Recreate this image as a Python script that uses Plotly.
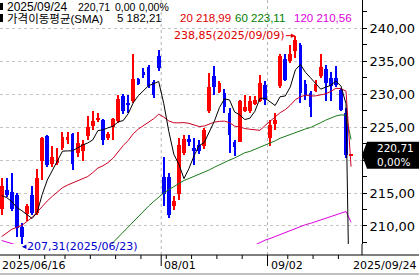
import plotly.graph_objects as go
from datetime import datetime

# ---------------- data ----------------
dates = ["2025/06/16","2025/06/17","2025/06/18","2025/06/20","2025/06/23","2025/06/24","2025/06/25","2025/06/26","2025/06/27","2025/06/30",
         "2025/07/01","2025/07/02","2025/07/03","2025/07/07","2025/07/08","2025/07/09","2025/07/10","2025/07/11","2025/07/14","2025/07/15",
         "2025/07/16","2025/07/17","2025/07/18","2025/07/21","2025/07/22","2025/07/23","2025/07/24","2025/07/25","2025/07/28","2025/07/29",
         "2025/07/30","2025/07/31","2025/08/01","2025/08/04","2025/08/05","2025/08/06","2025/08/07","2025/08/08","2025/08/11","2025/08/12",
         "2025/08/13","2025/08/14","2025/08/15","2025/08/18","2025/08/19","2025/08/20","2025/08/21","2025/08/22","2025/08/25","2025/08/26",
         "2025/08/27","2025/08/28","2025/08/29","2025/09/02","2025/09/03","2025/09/04","2025/09/05","2025/09/08","2025/09/09","2025/09/10",
         "2025/09/11","2025/09/12","2025/09/15","2025/09/16","2025/09/17","2025/09/18","2025/09/19","2025/09/22","2025/09/23","2025/09/24"]

opens = [212.5,215.4,215.1,214.7,209.9,211.8,214.7,212.0,219.9,223.6,
         219.4,219.5,221.8,223.0,223.9,221.1,221.4,223.6,225.1,226.0,
         226.0,223.3,225.0,225.9,229.7,228.6,229.0,232.3,233.3,234.1,
         231.8,235.7,217.4,217.5,213.0,214.8,221.1,223.2,221.8,222.3,
         222.1,227.4,232.7,230.3,230.1,227.1,222.8,222.8,227.5,227.4,
         228.5,229.0,231.4,223.3,225.4,231.2,235.3,235.0,236.5,237.5,
         231.5,230.2,230.5,232.7,233.8,232.5,232.5,230.6,227.1,220.71]
highs = [217.2,217.2,218.1,215.0,210.4,213.3,216.0,218.7,223.5,223.8,
         222.1,221.8,224.3,224.3,224.1,224.3,223.1,226.7,227.4,227.2,
         226.2,224.3,226.4,229.9,230.0,229.9,236.1,232.5,234.0,234.4,
         232.1,236.6,220.5,218.0,214.5,223.3,223.8,223.8,223.3,223.0,
         224.8,233.2,234.2,231.9,230.7,227.9,223.1,229.1,229.9,229.7,
         229.7,232.9,231.9,226.1,227.1,236.0,236.1,237.5,238.85,237.8,
         232.1,230.4,232.2,236.0,234.4,233.4,234.2,230.9,227.9,220.71]
lows = [211.7,214.4,212.3,208.4,207.31,210.7,211.6,211.7,217.0,219.0,
        219.0,219.2,221.5,222.4,218.5,220.5,219.8,223.1,224.6,225.7,
        222.3,223.1,223.1,225.6,226.9,227.1,228.6,231.3,232.4,230.9,
        229.4,233.5,213.1,211.2,212.4,214.0,220.8,222.1,219.3,220.9,
        221.6,227.1,229.9,230.1,227.1,221.1,220.6,222.7,227.3,227.2,
        228.4,228.8,228.4,222.1,224.6,230.9,232.0,234.7,235.5,228.7,
        229.1,226.5,230.3,232.4,228.9,228.9,231.0,227.4,220.3,220.71]
closes = [216.1,214.7,212.6,209.7,208.4,213.0,212.0,217.2,223.3,219.3,
          220.4,220.2,223.5,223.5,219.4,222.6,222.4,225.0,225.9,226.4,
          223.1,224.0,226.2,229.2,227.4,228.4,232.3,231.5,232.9,231.2,
          229.9,234.0,214.9,211.7,213.8,222.3,223.2,222.7,221.3,221.4,
          224.6,231.0,231.1,231.6,228.0,223.8,221.9,228.9,228.1,228.9,
          229.1,231.7,229.1,225.3,226.1,235.8,232.2,236.0,238.2,230.2,
          229.8,228.1,231.5,234.1,231.7,231.2,231.4,227.6,220.71,220.71]

ma5 = [214.6,214.3,213.7,212.8,212.30,211.68,211.14,212.06,214.78,216.96,
       218.44,220.08,221.34,221.38,221.40,221.84,222.28,222.58,223.06,224.46,
       224.56,224.88,225.12,225.78,225.98,227.04,228.70,229.76,230.50,231.26,
       231.56,231.90,228.58,224.34,220.86,219.34,217.18,218.74,220.66,222.18,
       222.64,224.20,225.88,227.94,229.26,229.10,227.28,226.84,226.14,226.32,
       227.38,229.34,229.38,228.82,228.26,229.60,229.70,231.08,233.66,234.48,
       233.28,232.46,231.56,230.74,231.04,231.32,231.98,231.20,228.52,182.21]
ma20 = [208.4,209.0,209.5,209.8,210.1,210.7,211.3,212.1,213.0,213.8,
        214.5,215.2,215.8,216.2,216.5,216.8,217.1,217.5,218.1,218.78,
        219.13,219.60,220.28,221.25,222.20,222.97,223.99,224.70,225.18,225.78,
        226.25,226.94,226.51,225.92,225.64,225.63,225.67,225.55,225.32,225.07,
        225.15,225.50,225.74,225.86,225.89,225.66,225.14,225.01,224.77,224.66,
        224.62,224.50,225.21,225.89,226.51,227.18,227.63,228.30,229.14,229.58,
        229.84,229.70,229.72,229.84,230.03,230.40,230.87,230.81,230.44,218.99]
ma60 = [None]*20 + [205.9,206.6,207.5,208.3,209.1,209.9,210.7,211.5,212.3,213.0,
        213.7,214.4,215.0,215.5,216.0,216.5,216.9,217.2,217.5,217.8,
        218.2,218.5,218.9,219.3,219.7,220.0,220.3,220.7,221.1,221.3,
        221.6,221.9,222.2,222.6,222.9,223.3,223.6,223.9,224.2,224.48,
        224.71,224.93,225.24,225.65,226.04,226.34,226.67,226.84,226.80,223.11]
ma120 = [207.8,207.6,207.35,207.1] + [None]*46 + [207.1,207.5,207.85,208.1,208.4,208.8,209.1,209.4,209.7,209.95,
         210.2,210.4,210.65,210.9,211.15,211.4,211.65,211.9,212.2,210.56]

last_change = 0.00
last_pct = 0.00
ytick_vals = [210, 215, 220, 225, 230, 235, 240]
label_dates = ["2025/08/01", "2025/09/02"]

# ---------------- geometry ----------------
W, H = 419, 278
PLOT_W, PLOT_H = 362, 244
def px_x(p):
    return p / PLOT_W
def px_y(p):
    return (PLOT_H - p) / PLOT_H
def fmt(v):
    return f"{v:.2f}".replace(".", ",")

FONT = "DejaVu Sans, Noto Sans CJK KR, sans-serif"
HFONT = "Liberation Sans, Noto Sans CJK KR, sans-serif"
RED, BLUE = "#ff0000", "#0000ff"

idx = list(range(len(dates)))
up = [c >= o for o, c in zip(opens, closes)]
cols = [RED if u else BLUE for u in up]
body_base = [min(o, c) for o, c in zip(opens, closes)]
body_h = [max(abs(c - o), 0.15) for o, c in zip(opens, closes)]
wick_h = [h - l for h, l in zip(highs, lows)]

fig = go.Figure()
fig.add_trace(go.Bar(x=idx, y=wick_h, base=lows, width=0.2, marker=dict(color=cols, line=dict(width=0)), hoverinfo="skip"))
fig.add_trace(go.Bar(x=idx, y=body_h, base=body_base, width=0.74, marker=dict(color=cols, line=dict(width=0)), hoverinfo="skip"))

for vals, col in [(ma120, "#dd00dd"), (ma60, "#1a7a1a"), (ma20, "#cc0022"), (ma5, "#000000")]:
    fig.add_trace(go.Scatter(x=idx, y=vals, mode="lines", line=dict(color=col, width=1), connectgaps=False, hoverinfo="skip"))

shapes = []
ann = []
# month gridlines and labels
for d in label_dates:
    i = dates.index(d)
    shapes.append(dict(type="line", xref="x", yref="paper", x0=i - 0.5, x1=i - 0.5, y0=px_y(255), y1=1,
                       line=dict(color="#b4b4b4", width=1, dash="3px,3px"), layer="below"))
    shapes.append(dict(type="line", xref="x", yref="paper", x0=i - 0.5, x1=i - 0.5, y0=px_y(255), y1=px_y(266),
                       line=dict(color="#000000", width=1)))
    ann.append(dict(x=i - 0.5, y=px_y(265), xref="x", yref="paper", text=d[5:], showarrow=False,
                    xanchor="left", yanchor="middle", xshift=1, font=dict(family=FONT, size=11, color="black")))

# weekly tick marks on the date axis
prev_week = None
for i, d in enumerate(dates):
    wk = datetime.strptime(d, "%Y/%m/%d").isocalendar()[1]
    if prev_week is not None and wk != prev_week and d not in label_dates:
        shapes.append(dict(type="line", xref="x", yref="paper", x0=i - 0.5, x1=i - 0.5, y0=px_y(255), y1=px_y(259),
                           line=dict(color="#000000", width=1)))
    prev_week = wk

# frame lines
shapes.append(dict(type="line", xref="paper", yref="paper", x0=0, x1=px_x(W), y0=px_y(255), y1=px_y(255), line=dict(color="#000000", width=1)))
shapes.append(dict(type="line", xref="paper", yref="paper", x0=1, x1=1, y0=px_y(255), y1=0, line=dict(color="#000000", width=1)))
shapes.append(dict(type="line", xref="paper", yref="paper", x0=0, x1=px_x(W), y0=px_y(274), y1=px_y(274), line=dict(color="#808080", width=1)))
# header markers
for (y0, y1) in [(3, 10), (14, 22)]:
    shapes.append(dict(type="rect", xref="paper", yref="paper", x0=0, x1=px_x(3), y0=px_y(y1), y1=px_y(y0), fillcolor="black", line=dict(width=0)))

# current price box (it hides the nearby axis label, as in the original)
last = closes[-1]
hh = 13.5 / 6.6
path = (f"M 1 {last} L {px_x(367)} {last + hh} L {px_x(W)} {last + hh} "
        f"L {px_x(W)} {last - hh} L {px_x(367)} {last - hh} Z")
shapes.append(dict(type="path", xref="paper", yref="y", path=path, fillcolor="black", line=dict(width=0)))
ann.append(dict(x=px_x(375), y=last, xref="paper", yref="y", text=fmt(last) + "<br>" + fmt(last_pct) + "%",
                showarrow=False, xanchor="left", yanchor="middle", align="left",
                font=dict(family=FONT, size=10.5, color="white")))
ytick_text = [fmt(v) if abs(v - last) > 2.5 else "" for v in ytick_vals]

# header text
hdr = [(5, dates[-1], 12), (76, fmt(last), 10.5), (113, fmt(last_change), 10.5), (137, fmt(last_pct) + "%", 10.5)]
for x, t, s in hdr:
    ann.append(dict(x=px_x(x), y=px_y(6.5), xref="paper", yref="paper", text=t, showarrow=False, xanchor="left",
                    yanchor="middle", font=dict(family=HFONT, size=s, color="black")))
leg = [(5, "가격이동평균(SMA)", "black"), (115, "5 " + fmt(ma5[-1]), "black"),
       (178, "20 " + fmt(ma20[-1]), "#dd0000"),
       (233, "60 " + fmt(ma60[-1]), "#008000"),
       (292, "120 " + fmt(ma120[-1]), "#dd00dd")]
for x, t, c in leg:
    ann.append(dict(x=px_x(x), y=px_y(18.5), xref="paper", yref="paper", text=t, showarrow=False, xanchor="left",
                    yanchor="middle", font=dict(family=HFONT, size=11.5, color=c)))

# x-axis end labels
ann.append(dict(x=0, y=px_y(265), xref="paper", yref="paper", text=dates[0], showarrow=False, xanchor="left",
                yanchor="middle", font=dict(family=FONT, size=11, color="black")))
ann.append(dict(x=px_x(418), y=px_y(265), xref="paper", yref="paper", text=dates[-1], showarrow=False, xanchor="right",
                yanchor="middle", font=dict(family=FONT, size=11, color="black")))

# high / low annotations
ih = highs.index(max(highs))
il = lows.index(min(lows))
ann.append(dict(x=ih, y=highs[ih], xref="x", yref="y", text=f"{fmt(highs[ih])}({dates[ih]})", showarrow=True,
                ax=-66, ay=0, arrowhead=2, arrowsize=0.9, arrowwidth=1, arrowcolor="#dd0000", standoff=0,
                font=dict(family=FONT, size=11, color="#dd0000")))
ann.append(dict(x=il, y=lows[il], xref="x", yref="y", text=f"{fmt(lows[il])}({dates[il]})", showarrow=True,
                ax=60, ay=0, yshift=-3, arrowhead=2, arrowsize=0.9, arrowwidth=1, arrowcolor="#0000cc", standoff=0,
                font=dict(family=FONT, size=11, color="#0000cc")))

fig.update_layout(
    width=W, height=H, margin=dict(l=0, r=W - PLOT_W, t=0, b=H - PLOT_H),
    paper_bgcolor="white", plot_bgcolor="white", showlegend=False,
    barmode="overlay", bargap=0,
    shapes=shapes, annotations=ann,
    xaxis=dict(range=[-0.336, 71.16], showgrid=False, zeroline=False, showticklabels=False, ticks="", showline=False, fixedrange=True),
    yaxis=dict(side="right", range=[207.27, 244.25], tickvals=ytick_vals, ticktext=ytick_text,
               ticks="outside", ticklen=4, tickcolor="black", showline=True, linecolor="black", linewidth=1,
               showgrid=True, gridcolor="#c4c4c4", griddash="3px,3px", zeroline=False,
               tickfont=dict(family=FONT, size=13, color="black"),
               minor=dict(tickmode="linear", tick0=210, dtick=2.5, ticks="outside", ticklen=4, tickcolor="black", showgrid=False)),
)

fig.write_html("out.html")
